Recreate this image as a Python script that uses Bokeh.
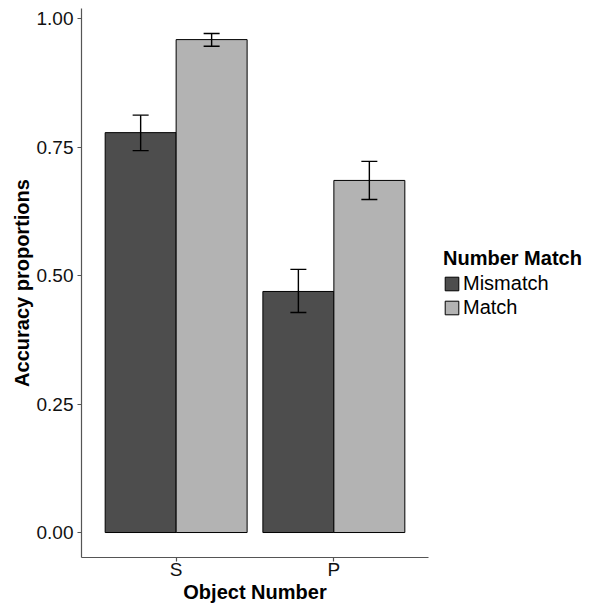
from bokeh.plotting import figure
from bokeh.models import (ColumnDataSource, FactorRange, FixedTicker, NumeralTickFormatter,
                          Legend, LegendItem, Whisker)
from bokeh.transform import dodge
from bokeh.embed import file_html
from bokeh.resources import INLINE

# data
categories = ["S", "P"]
series = ["Mismatch", "Match"]
mismatch_vals = [0.778, 0.469]
mismatch_lo = [0.743, 0.428]
mismatch_hi = [0.812, 0.512]
match_vals = [0.959, 0.685]
match_lo = [0.946, 0.648]
match_hi = [0.971, 0.722]
y_ticks = [0.0, 0.25, 0.5, 0.75, 1.0]

FONT = "Liberation Sans"
colors = ["#4d4d4d", "#b3b3b3"]

src_mm = ColumnDataSource(dict(cat=categories, y=mismatch_vals, lo=mismatch_lo, hi=mismatch_hi))
src_m = ColumnDataSource(dict(cat=categories, y=match_vals, lo=match_lo, hi=match_hi))

p = figure(x_range=FactorRange(factors=categories, range_padding=0.1, range_padding_units="absolute"),
           y_range=(-0.0486, 1.0195),
           width=593, height=605, output_backend="svg", toolbar_location=None,
           min_border_left=81, min_border_right=0, min_border_top=8, min_border_bottom=48)
p.frame_width = 347
p.frame_height = 549

r1 = p.vbar(x=dodge("cat", -0.225, range=p.x_range), top="y", width=0.45, source=src_mm,
            fill_color=colors[0], line_color="black", line_width=1)
r2 = p.vbar(x=dodge("cat", 0.225, range=p.x_range), top="y", width=0.45, source=src_m,
            fill_color=colors[1], line_color="black", line_width=1)

for src, off in [(src_mm, -0.225), (src_m, 0.225)]:
    w = Whisker(base=dodge("cat", off, range=p.x_range), upper="hi", lower="lo", source=src,
                line_color="black", line_width=1.4, level="overlay")
    w.upper_head.size = 16
    w.lower_head.size = 16
    w.upper_head.line_width = 1.4
    w.lower_head.line_width = 1.4
    p.add_layout(w)

p.xgrid.visible = False
p.ygrid.visible = False
p.outline_line_color = None
p.background_fill_color = "white"
p.border_fill_color = "white"

for ax in (p.xaxis[0], p.yaxis[0]):
    ax.axis_line_color = "#555555"
    ax.axis_line_width = 1.2
    ax.major_tick_line_color = "#555555"
    ax.major_tick_line_width = 1.2
    ax.major_tick_out = 4
    ax.major_tick_in = 0
    ax.minor_tick_line_color = None
    ax.major_label_text_font = FONT
    ax.major_label_text_font_size = "19px"
    ax.major_label_text_color = "#111111"
    ax.axis_label_text_font = FONT
    ax.axis_label_text_font_size = "20px"
    ax.axis_label_text_font_style = "bold"
    ax.axis_label_text_color = "black"

p.yaxis.ticker = FixedTicker(ticks=y_ticks)
p.yaxis.formatter = NumeralTickFormatter(format="0.00")
p.yaxis.axis_label = "Accuracy proportions"
p.yaxis.major_label_standoff = 4
p.yaxis.axis_label_standoff = 1
p.xaxis.axis_label = "Object Number"
p.xaxis.major_label_standoff = -3
p.xaxis.axis_label_standoff = -2

legend = Legend(items=[LegendItem(label=series[0], renderers=[r1]),
                       LegendItem(label=series[1], renderers=[r2])],
                location="left")
legend.title = "Number Match"
legend.title_text_font = FONT
legend.title_text_font_size = "20px"
legend.title_text_font_style = "bold"
legend.title_text_color = "black"
legend.title_standoff = 2
legend.label_text_font = FONT
legend.label_text_font_size = "20px"
legend.label_text_line_height = 0.85
legend.label_text_color = "black"
legend.glyph_width = 17
legend.glyph_height = 17
legend.label_height = 17
legend.label_standoff = 3
legend.spacing = 1
legend.padding = 0
legend.margin = 15
legend.border_line_color = None
legend.background_fill_alpha = 0
p.add_layout(legend, "right")

open("out.html", "w").write(file_html(p, INLINE))
